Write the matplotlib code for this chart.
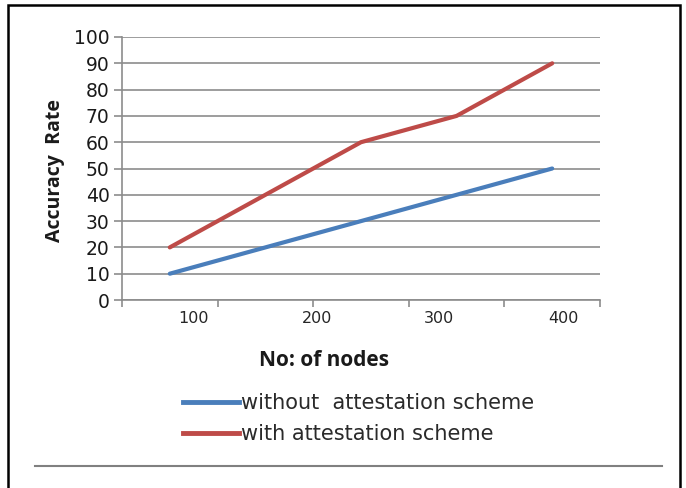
import matplotlib
matplotlib.use("Agg")
import matplotlib.pyplot as plt
from matplotlib.lines import Line2D
from matplotlib.patches import Rectangle

# Data
categories = [0, 1, 2, 3, 4]
without_scheme = [10, 20, 30, 40, 50]
with_scheme = [20, 40, 60, 70, 90]
x_tick_labels = ["100", "200", "300", "400"]
x_label_pos = [0.25, 1.54, 2.82, 4.12]
y_ticks = list(range(0, 101, 10))
series_names = ["without  attestation scheme", "with attestation scheme"]

BLUE = "#4A7EBB"
RED = "#BE4B48"
GRID = "#8C8C8C"

fig = plt.figure(figsize=(6.86, 4.88), dpi=100)
W, H = 686, 488

def fx(px):
    return px / W

def fy(py):
    return 1 - py / H

ax = fig.add_axes([fx(122), fy(300), fx(600) - fx(122), fy(37) - fy(300)])
ax.plot(categories, without_scheme, color=BLUE, lw=3.0, solid_capstyle="round", zorder=3)
ax.plot(categories, with_scheme, color=RED, lw=3.0, solid_capstyle="round", zorder=3)

ax.set_xlim(-0.5, 4.5)
ax.set_ylim(0, 100)
ax.set_yticks(y_ticks)
ax.set_yticklabels([str(v) for v in y_ticks], fontsize=13.5, color="#1a1a1a", family="DejaVu Sans")
ax.set_xticks([i - 0.5 for i in range(6)])
ax.set_xticklabels([])
ax.set_xticks(x_label_pos, minor=True)
ax.set_xticklabels(x_tick_labels, minor=True, fontsize=11.5, color="#262626", family="DejaVu Sans")
ax.tick_params(axis="x", which="minor", length=0, pad=8)
ax.tick_params(axis="x", which="major", length=5, width=1.2, color=GRID, direction="out")
ax.tick_params(axis="y", length=6, width=1.2, color=GRID, direction="out", pad=3)

ax.grid(axis="y", color=GRID, lw=1.2, zorder=1)
for s in ["top", "right"]:
    ax.spines[s].set_visible(False)
for s in ["left", "bottom"]:
    ax.spines[s].set_color(GRID)
    ax.spines[s].set_linewidth(1.2)

ax.set_ylabel("Accuracy  Rate", fontsize=14, fontweight="bold", family="Open Sans",
              color="#1a1a1a")
ax.yaxis.set_label_coords(-(122 - 55) / 478, (300 - 170) / 263)
ax.yaxis.label.set_va("center")

fig.text(fx(324), fy(360), "No: of nodes", fontsize=15, fontweight="bold",
         family="Open Sans", ha="center", va="center", color="#1a1a1a")

# Legend
handles = [Line2D([0], [0], color=BLUE, lw=3.5), Line2D([0], [0], color=RED, lw=3.5)]
leg = fig.legend(handles, series_names, loc="upper left", bbox_to_anchor=(fx(183), fy(393)),
                 frameon=False, handlelength=2.7, handletextpad=0.1, labelspacing=0.55,
                 borderpad=0, borderaxespad=0,
                 prop={"family": "DejaVu Sans", "size": 15})
for t in leg.get_texts():
    t.set_color("#2a2a2a")

# Outer border and bottom rule
fig.add_artist(Rectangle((fx(8), -0.05), fx(680) - fx(8), fy(5) + 0.05, transform=fig.transFigure,
                         fill=False, edgecolor="black", lw=1.8))
fig.add_artist(Line2D([fx(35), fx(662)], [fy(466), fy(466)], transform=fig.transFigure,
                      color="#808080", lw=1.5))

fig.savefig("out.png", dpi=100)
